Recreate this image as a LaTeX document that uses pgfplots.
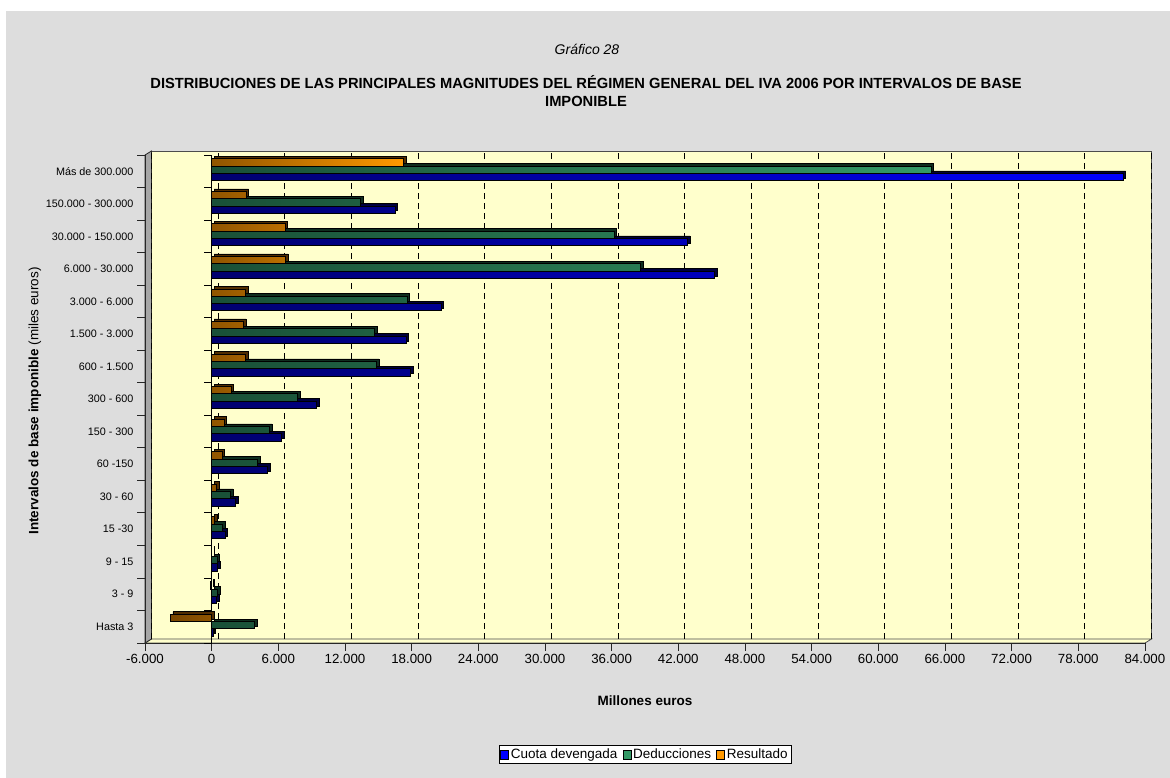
\documentclass[border=0pt]{standalone}
\usepackage{fontspec}
\setmainfont{Liberation Sans}
\usepackage{pgfplots}
\pgfplotsset{compat=1.18}
\definecolor{bggray}{RGB}{221,221,221}
\definecolor{wall}{RGB}{255,255,204}
\definecolor{cblue}{RGB}{0,0,255}
\definecolor{cbluedk}{RGB}{0,0,110}
\definecolor{cblueshd}{RGB}{0,0,60}
\definecolor{cgreen}{RGB}{51,153,102}
\definecolor{cgreendk}{RGB}{25,80,55}
\definecolor{cgreenshd}{RGB}{15,45,30}
\definecolor{corange}{RGB}{255,153,0}
\definecolor{corangedk}{RGB}{120,70,0}
\definecolor{corangeshd}{RGB}{80,45,0}

\begin{document}
\begin{tikzpicture}
% background, walls and texts in pixel units (y down)
\begin{scope}[x=1pt,y=-1pt]
\fill[white] (0,0) rectangle (1170,778);
\fill[bggray] (6,11) rectangle (1170,778);
\fill[wall] (151.5,151) rectangle (1151.5,639);
\draw[gray!60!black, line width=0.8pt] (151.5,639) -- (151.5,151) -- (1151.5,151) -- (1151.5,639);
\filldraw[fill=wall, draw=gray!60!black, line width=0.8pt] (145,643) -- (151.5,639) -- (1151.5,639) -- (1145,643) -- cycle;
\filldraw[fill=gray!70, draw=gray!30!black, line width=0.8pt] (145,155) -- (151.5,151) -- (151.5,639) -- (145,643) -- cycle;
\node[font=\fontsize{14}{16}\selectfont\itshape] at (587,49) {Gráfico  28};
\node[font=\fontsize{14.7}{18}\selectfont\bfseries, align=center] at (586,91)
  {DISTRIBUCIONES DE LAS PRINCIPALES MAGNITUDES DEL RÉGIMEN GENERAL DEL IVA 2006 POR INTERVALOS DE BASE\\IMPONIBLE};
\node[rotate=90, font=\fontsize{13.5}{15}\selectfont] at (35,401)
  {\textbf{Intervalos de base imponible} (miles euros)};
\node[font=\fontsize{13.5}{15}\selectfont\bfseries] at (645,701) {Millones euros};
\end{scope}

\begin{axis}[
  at={(145pt,-643pt)}, anchor=south west,
  scale only axis, width=1000pt, height=488pt,
  xmin=-6000, xmax=84000, ymin=-0.5, ymax=14.5,
  axis lines*=left,
  axis line style={black!85, line width=1pt},
  tick align=outside,
  major tick length=8pt, minor tick length=8pt,
  xtick={-6000,0,...,84000},
  scaled x ticks=false,
  xticklabel style={font=\fontsize{13.3}{15}\selectfont,
    /pgf/number format/.cd, 1000 sep={.}, assume math mode=true},
  ytick={0,...,14},
  yticklabels={Hasta 3, 3 - 9, 9 - 15, 15 -30, 30 - 60, 60 -150, 150 - 300, 300 - 600,
    600 - 1.500, 1.500 - 3.000, 3.000 - 6.000, 6.000 - 30.000, 30.000 - 150.000,
    150.000 - 300.000, Más de 300.000},
  yticklabel style={font=\fontsize{10.8}{12}\selectfont},
  major y tick style={draw=none},
  minor ytick={-0.5,0.5,...,14.5},
  minor y tick style={black!85, line width=0.8pt},
  x tick style={black!85, line width=0.8pt},
  xmajorgrids,
  grid style={black, line width=0.8pt, dash pattern=on 6pt off 4pt, xshift=6.5pt, yshift=4pt},
  bar width=7.3pt,
  legend style={at={(0.5,0)}, anchor=north, yshift=-102pt, draw=black, fill=white,
    font=\fontsize{13.5}{15}\selectfont, legend columns=3, inner sep=1.5pt,
    /tikz/every even column/.append style={column sep=3pt}},
]
\draw[black, line width=1.2pt] (axis cs:0,-0.5) -- (axis cs:0,14.5);
\pgfplotsinvokeforeach{-0.5,0.5,1.5,2.5,3.5,4.5,5.5,6.5,7.5,8.5,9.5,10.5,11.5,12.5,13.5,14.5}{
  \draw[black, line width=0.8pt] (axis cs:0,#1) -- ([xshift=-8pt]axis cs:0,#1);
}

% depth (3D) faces
\addplot[xbar, forget plot, bar shift=-5.8pt, fill=cblueshd, draw=black, line width=0.6pt, xshift=2.5pt, yshift=2.5pt]
  coordinates {(120,0) (450,1) (510,2) (1210,3) (2130,4) (5040,5) (6300,6) (9450,7)
  (17900,8) (17490,9) (20640,10) (45270,11) (42820,12) (16500,13) (82040,14)};
\addplot[xbar, forget plot, bar shift=1.5pt, fill=cgreenshd, draw=black, line width=0.6pt, xshift=2.5pt, yshift=2.5pt]
  coordinates {(3840,0) (540,1) (490,2) (960,3) (1680,4) (4110,5) (5190,6) (7710,7)
  (14820,8) (14640,9) (17600,10) (38620,11) (36210,12) (13400,13) (64740,14)};
\addplot[xbar, forget plot, bar shift=8.8pt, fill=corangeshd, draw=black, line width=0.6pt, xshift=2.5pt, yshift=2.5pt]
  coordinates {(-3720,0) (-90,1) (20,2) (250,3) (450,4) (930,5) (1110,6) (1740,7)
  (3080,8) (2850,9) (3040,10) (6650,11) (6610,12) (3100,13) (17300,14)};

% front faces
\addplot[xbar, forget plot, bar shift=-5.8pt, left color=cbluedk, right color=cblue, draw=black, line width=0.8pt]
  coordinates {(120,0) (450,1) (510,2) (1210,3) (2130,4) (5040,5) (6300,6) (9450,7)
  (17900,8) (17490,9) (20640,10) (45270,11) (42820,12) (16500,13) (82040,14)};
\addplot[xbar, forget plot, bar shift=1.5pt, left color=cgreendk, right color=cgreen, draw=black, line width=0.8pt]
  coordinates {(3840,0) (540,1) (490,2) (960,3) (1680,4) (4110,5) (5190,6) (7710,7)
  (14820,8) (14640,9) (17600,10) (38620,11) (36210,12) (13400,13) (64740,14)};
\addplot[xbar, forget plot, bar shift=8.8pt, left color=corangedk, right color=corange, draw=black, line width=0.8pt]
  coordinates {(-3720,0) (-90,1) (20,2) (250,3) (450,4) (930,5) (1110,6) (1740,7)
  (3080,8) (2850,9) (3040,10) (6650,11) (6610,12) (3100,13) (17300,14)};

\addlegendimage{legend image code/.code={\draw[fill=cblue, draw=black, line width=0.6pt] (0pt,-4.5pt) rectangle (8pt,4.5pt);}}
\addlegendentry{Cuota devengada}
\addlegendimage{legend image code/.code={\draw[fill=cgreen, draw=black, line width=0.6pt] (0pt,-4.5pt) rectangle (8pt,4.5pt);}}
\addlegendentry{Deducciones}
\addlegendimage{legend image code/.code={\draw[fill=corange, draw=black, line width=0.6pt] (0pt,-4.5pt) rectangle (8pt,4.5pt);}}
\addlegendentry{Resultado}
\end{axis}
\end{tikzpicture}
\end{document}
